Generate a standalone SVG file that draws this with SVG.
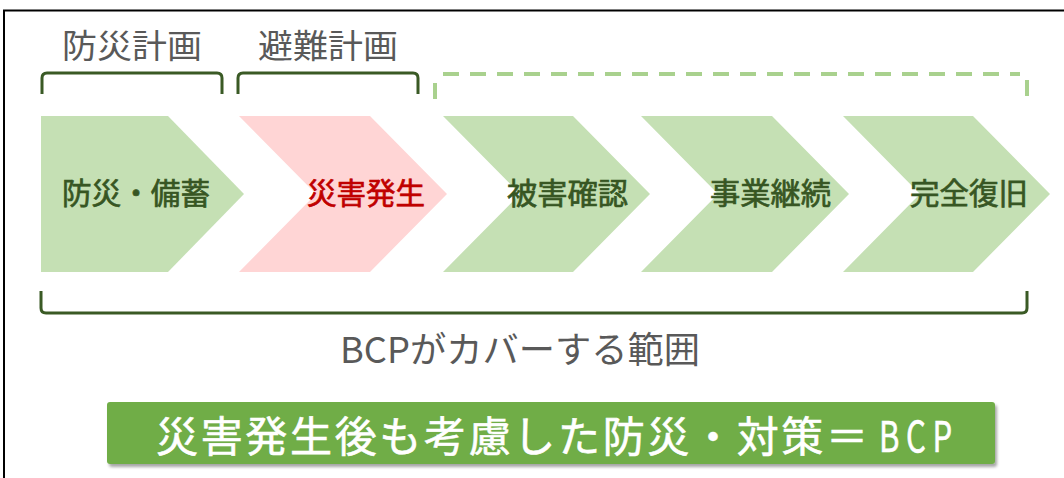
<svg xmlns="http://www.w3.org/2000/svg" width="1064" height="478" viewBox="0 0 1064 478">
<style>
text{font-family:"Noto Sans CJK JP","Liberation Sans",sans-serif;}
.title{font-size:33px;fill:#595959;}
.lbl{font-size:30px;fill:#375623;stroke:#375623;stroke-width:0.7;}
.red{fill:#c00000;stroke:#c00000;}
.g{fill:#c5e0b4;}
.p{fill:#ffd5d5;}
.br{fill:none;stroke:#3a5a25;stroke-width:3;stroke-linejoin:round;}
.dash{fill:none;stroke:#a9d18e;stroke-width:4;stroke-dasharray:16 11;}
.sum{font-size:42px;fill:#fff;stroke:#fff;stroke-width:0.6;}
</style>
<defs>
<filter id="sh" x="-5%" y="-20%" width="110%" height="150%">
<feDropShadow dx="2" dy="3" stdDeviation="1.5" flood-color="#000" flood-opacity="0.35"/>
</filter>
</defs>
<rect width="1064" height="478" fill="#fff"/>
<g id="frame"><path d="M4 478 V10.5 H1064" fill="none" stroke="#000" stroke-width="2"/></g>

<g id="title-bousai"><text class="title" x="62" y="58" textLength="140" lengthAdjust="spacingAndGlyphs">防災計画</text></g>
<g id="title-hinan"><text class="title" x="258" y="58" textLength="140" lengthAdjust="spacingAndGlyphs">避難計画</text></g>

<g id="brackets">
<path class="br" d="M42 94 V78 Q42 73 47 73 H217 Q222 73 222 78 V94"/>
<path class="br" d="M238 94 V78 Q238 73 243 73 H413 Q418 73 418 78 V94"/>
<path class="dash" d="M435 99 V78"/>
<path class="dash" d="M443 74 H1020"/>
<path class="dash" d="M1027 80 V100"/>
<path class="br" d="M41 291 V308 Q41 313 46 313 H1022 Q1027 313 1027 308 V291"/>
</g>

<g id="step1"><polygon class="g" points="41,116 168,116 244,194 168,272 41,272"/>
<text class="lbl" x="62" y="204" textLength="148" lengthAdjust="spacingAndGlyphs">防災・備蓄</text></g>
<g id="step2"><polygon class="p" points="239,116 370,116 447,194 370,272 239,272 316,194"/>
<text class="lbl red" x="307" y="204" textLength="118" lengthAdjust="spacingAndGlyphs">災害発生</text></g>
<g id="step3"><polygon class="g" points="443,116 573,116 650,194 573,272 443,272 520,194"/>
<text class="lbl" x="507" y="204" textLength="121" lengthAdjust="spacingAndGlyphs">被害確認</text></g>
<g id="step4"><polygon class="g" points="641,116 772,116 849,194 772,272 641,272 718,194"/>
<text class="lbl" x="710" y="204" textLength="121" lengthAdjust="spacingAndGlyphs">事業継続</text></g>
<g id="step5"><polygon class="g" points="843,116 973,116 1050,194 973,272 843,272 920,194"/>
<text class="lbl" x="910" y="204" textLength="118" lengthAdjust="spacingAndGlyphs">完全復旧</text></g>

<g id="scope-label"><text x="340" y="363" font-size="36" fill="#595959" textLength="360" lengthAdjust="spacingAndGlyphs">BCPがカバーする範囲</text></g>

<g id="summary">
<rect x="107" y="402" width="888" height="62" rx="3" fill="#70ad47" filter="url(#sh)"/>
<text class="sum" x="156" y="452" textLength="712" lengthAdjust="spacing">災害発生後も考慮した防災・対策＝</text>
<text class="sum" transform="translate(879 452) scale(0.74 1)" x="0" y="0" letter-spacing="9">BCP</text>
</g>
</svg>
